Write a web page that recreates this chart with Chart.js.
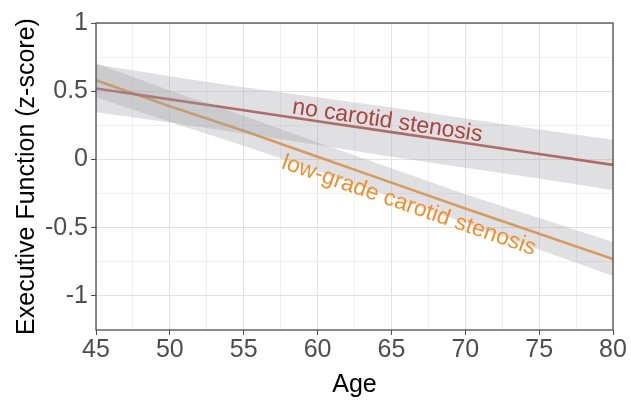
<!DOCTYPE html>
<html>
<head>
<meta charset="utf-8">
<script src="https://cdn.jsdelivr.net/npm/chart.js@4.4.1/dist/chart.umd.min.js"></script>
<style>
html, body { margin: 0; padding: 0; background: #fff; }
</style>
</head>
<body>
<canvas id="myChart" width="631" height="407"></canvas>
<script>
var ages = [45, 50, 55, 60, 65, 70, 75, 80];
// no carotid stenosis: fit and confidence band
var noStenosisFit = [0.52, 0.44, 0.36, 0.28, 0.20, 0.12, 0.04, -0.04];
var noStenosisUpper = [0.695, 0.61, 0.53, 0.455, 0.38, 0.30, 0.22, 0.145];
var noStenosisLower = [0.345, 0.27, 0.19, 0.105, 0.02, -0.06, -0.14, -0.225];
// low-grade carotid stenosis: fit and confidence band
var lowGradeFit = [0.58, 0.39, 0.21, 0.02, -0.17, -0.36, -0.545, -0.73];
var lowGradeUpper = [0.705, 0.505, 0.32, 0.125, -0.065, -0.255, -0.43, -0.605];
var lowGradeLower = [0.455, 0.275, 0.10, -0.085, -0.275, -0.465, -0.66, -0.855];
// grid positions (labels only on the major ones)
var xTicks = [45, 47.5, 50, 52.5, 55, 57.5, 60, 62.5, 65, 67.5, 70, 72.5, 75, 77.5, 80];
var yTicks = [-1, -0.75, -0.5, -0.25, 0, 0.25, 0.5, 0.75, 1];

var FONT = "'Liberation Sans', Arial, sans-serif";
var RED = '#b4514d';
var ORANGE = '#f0983c';
var BAND = 'rgba(160,162,166,0.33)';

function pts(arr) {
  return ages.map(function (a, i) { return { x: a, y: arr[i] }; });
}
function isMajor(v, step) {
  return Math.abs(v / step - Math.round(v / step)) < 1e-6;
}
function interp(arr, age) {
  for (var i = 0; i < ages.length - 1; i++) {
    if (age >= ages[i] && age <= ages[i + 1]) {
      var t = (age - ages[i]) / (ages[i + 1] - ages[i]);
      return arr[i] + t * (arr[i + 1] - arr[i]);
    }
  }
  return arr[arr.length - 1];
}

var frame = {
  id: 'frame',
  afterDatasetsDraw: function (chart) {
    var a = chart.chartArea, c = chart.ctx;
    c.save();
    c.strokeStyle = '#4d4d4d';
    c.lineWidth = 1.3;
    c.strokeRect(a.left, a.top, a.right - a.left, a.bottom - a.top);
    c.restore();
  }
};

var lineLabels = {
  id: 'lineLabels',
  afterDatasetsDraw: function (chart) {
    var xs = chart.scales.x, ys = chart.scales.y, c = chart.ctx;
    var items = [
      { text: 'no carotid stenosis', age: 58.2, fit: noStenosisFit, color: '#a8453f', dy: -4, base: 'alphabetic' },
      { text: 'low-grade carotid stenosis', age: 58.0, fit: lowGradeFit, color: '#ef8f2f', dy: 5, base: 'top' }
    ];
    items.forEach(function (it) {
      var x0 = xs.getPixelForValue(ages[0]), x1 = xs.getPixelForValue(ages[ages.length - 1]);
      var y0 = ys.getPixelForValue(it.fit[0]), y1 = ys.getPixelForValue(it.fit[it.fit.length - 1]);
      var ang = Math.atan2(y1 - y0, x1 - x0);
      var px = xs.getPixelForValue(it.age), py = ys.getPixelForValue(interp(it.fit, it.age));
      c.save();
      c.translate(px, py);
      c.rotate(ang);
      c.font = '23px ' + FONT;
      c.fillStyle = it.color;
      c.textAlign = 'left';
      c.textBaseline = it.base;
      c.fillText(it.text, 0, it.dy);
      c.restore();
    });
  }
};

var ctx = document.getElementById('myChart');
var myChart = new Chart(ctx, {
  type: 'line',
  data: {
    datasets: [
      { data: pts(noStenosisUpper), fill: '+1', backgroundColor: BAND, borderWidth: 0, pointRadius: 0 },
      { data: pts(noStenosisLower), fill: false, borderWidth: 0, pointRadius: 0 },
      { data: pts(lowGradeUpper), fill: '+1', backgroundColor: BAND, borderWidth: 0, pointRadius: 0 },
      { data: pts(lowGradeLower), fill: false, borderWidth: 0, pointRadius: 0 },
      { label: 'no carotid stenosis', data: pts(noStenosisFit), borderColor: RED, borderWidth: 2.6, pointRadius: 0, fill: false },
      { label: 'low-grade carotid stenosis', data: pts(lowGradeFit), borderColor: ORANGE, borderWidth: 2.6, pointRadius: 0, fill: false }
    ]
  },
  options: {
    responsive: false,
    animation: false,
    devicePixelRatio: 1,
    layout: { padding: { top: 23, right: 18, left: 0, bottom: 0 } },
    plugins: { legend: { display: false }, tooltip: { enabled: false } },
    scales: {
      x: {
        type: 'linear', min: 45, max: 80,
        afterBuildTicks: function (s) { s.ticks = xTicks.map(function (v) { return { value: v }; }); },
        afterFit: function (s) { s.height = 77; },
        ticks: {
          autoSkip: false, maxRotation: 0, padding: 0, color: '#4d4d4d',
          font: { family: FONT, size: 25 },
          callback: function (v) { return isMajor(v, 5) ? String(v) : ''; }
        },
        grid: {
          color: function (c) { return c.tick && isMajor(c.tick.value, 5) ? '#e2e2e2' : '#efefef'; },
          tickColor: function (c) { return c.tick && isMajor(c.tick.value, 5) ? '#4d4d4d' : 'rgba(0,0,0,0)'; },
          tickLength: 5
        },
        border: { display: false },
        title: { display: true, text: 'Age', color: '#000', font: { family: FONT, size: 25 }, padding: { top: 0, bottom: 7 } }
      },
      y: {
        type: 'linear', min: -1.25, max: 1,
        afterBuildTicks: function (s) { s.ticks = yTicks.map(function (v) { return { value: v }; }); },
        afterFit: function (s) { s.width = 96; },
        ticks: {
          padding: 3, color: '#4d4d4d',
          font: { family: FONT, size: 25 },
          callback: function (v) { return isMajor(v, 0.5) ? String(v) : ''; }
        },
        grid: {
          color: function (c) { return c.tick && isMajor(c.tick.value, 0.5) ? '#e2e2e2' : '#efefef'; },
          tickColor: function (c) { return c.tick && isMajor(c.tick.value, 0.5) ? '#4d4d4d' : 'rgba(0,0,0,0)'; },
          tickLength: 5
        },
        border: { display: false },
        title: { display: true, text: 'Executive Function (z-score)', color: '#000', font: { family: FONT, size: 25 }, padding: { top: 12, bottom: 0 } }
      }
    }
  },
  plugins: [frame, lineLabels]
});
</script>
</body>
</html>
